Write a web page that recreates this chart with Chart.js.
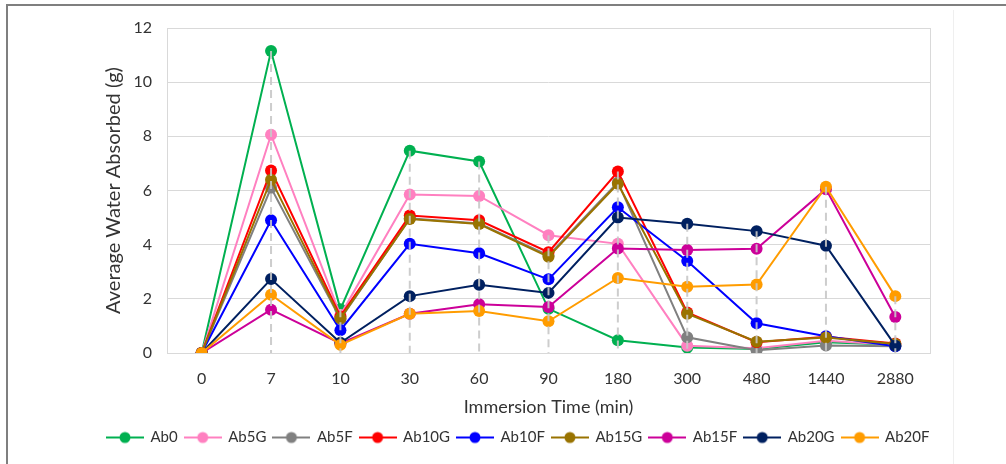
<!DOCTYPE html>
<html>
<head>
<meta charset="utf-8">
<style>
	html, body {
		margin: 0;
		padding: 0;
		overflow: hidden;
		background: #fff;
	}

	.frame {
		position: absolute;
		left: 6px;
		top: 4px;
		width: 1100px;
		height: 600px;
		border-top: 2px solid #7f7f7f;
		border-left: 2px solid #7f7f7f;
	}

	.edge {
		position: absolute;
		left: 953px;
		top: 10px;
		width: 1px;
		height: 460px;
		background: #efefef;
	}

	.wrapper {
		position: absolute;
		left: 0;
		top: 0;
		width: 1006px;
		height: 464px;
	}
</style>
</head>
<body>
<div class="frame"></div>
<div class="edge"></div>
<div class="wrapper">
	<canvas id="waterChart"></canvas>
</div>

<script src="https://cdn.jsdelivr.net/npm/chart.js"></script>

<script>
	var times = ['0', '7', '10', '30', '60', '90', '180', '300', '480', '1440', '2880'];

	var ab0   = [0, 11.15, 1.62, 7.47, 7.07, 1.63, 0.47, 0.20, 0.15, 0.40, 0.30];
	var ab5G  = [0, 8.06, 1.40, 5.85, 5.80, 4.35, 4.03, 0.27, 0.18, 0.45, 0.30];
	var ab5F  = [0, 6.10, 1.25, 4.97, 4.78, 3.60, 6.30, 0.58, 0.10, 0.28, 0.25];
	var ab10G = [0, 6.74, 1.35, 5.08, 4.90, 3.72, 6.70, 1.50, 0.40, 0.60, 0.35];
	var ab10F = [0, 4.90, 0.84, 4.03, 3.68, 2.72, 5.38, 3.40, 1.10, 0.62, 0.25];
	var ab15G = [0, 6.40, 1.28, 4.95, 4.76, 3.55, 6.25, 1.45, 0.42, 0.57, 0.33];
	var ab15F = [0, 1.60, 0.35, 1.45, 1.80, 1.70, 3.86, 3.80, 3.85, 6.05, 1.33];
	var ab20G = [0, 2.73, 0.38, 2.10, 2.52, 2.22, 5.00, 4.77, 4.50, 3.96, 0.27];
	var ab20F = [0, 2.15, 0.30, 1.45, 1.55, 1.17, 2.77, 2.45, 2.53, 6.14, 2.10];

	var yTicks = [0, 2, 4, 6, 8, 10, 12];

	var seriesNames = ['Ab0', 'Ab5G', 'Ab5F', 'Ab10G', 'Ab10F', 'Ab15G', 'Ab15F', 'Ab20G', 'Ab20F'];
	var seriesData = [ab0, ab5G, ab5F, ab10G, ab10F, ab15G, ab15F, ab20G, ab20F];
	var seriesColors = ['#00B050', '#FF80C0', '#808080', '#FF0000', '#0000FF', '#997300', '#CC0099', '#002060', '#FF9C00'];

	var font = 'Lato, "Open Sans", sans-serif';

	// legend swatch: short line with a dot in the middle
	function legendIcon(color) {
		var c = document.createElement('canvas');
		c.width = 38;
		c.height = 14;
		var ctx = c.getContext('2d');
		ctx.strokeStyle = color;
		ctx.lineWidth = 2;
		ctx.beginPath();
		ctx.moveTo(0, 7);
		ctx.lineTo(38, 7);
		ctx.stroke();
		ctx.fillStyle = color;
		ctx.beginPath();
		ctx.arc(19, 7, 5.5, 0, Math.PI * 2);
		ctx.fill();
		return c;
	}

	var datasets = seriesNames.map(function (name, i) {
		return {
			label: name,
			data: seriesData[i],
			borderColor: seriesColors[i],
			backgroundColor: seriesColors[i],
			borderWidth: 2,
			pointRadius: 6,
			pointBorderWidth: 0,
			pointHoverRadius: 6,
			fill: false,
			tension: 0,
			order: seriesNames.length - i
		};
	});

	// Excel style drop lines from the highest point down to the axis
	var dropLines = {
		id: 'dropLines',
		afterDatasetsDraw: function (chart) {
			var ctx = chart.ctx;
			var xs = chart.scales.x;
			var ys = chart.scales.y;
			ctx.save();
			ctx.strokeStyle = 'rgba(200,200,200,0.9)';
			ctx.lineWidth = 2;
			ctx.setLineDash([8, 5]);
			times.forEach(function (t, i) {
				var top = 0;
				seriesData.forEach(function (s) {
					if (s[i] > top) top = s[i];
				});
				if (top <= 0) return;
				var x = xs.getPixelForValue(i);
				ctx.beginPath();
				ctx.moveTo(x, ys.getPixelForValue(top));
				ctx.lineTo(x, ys.getPixelForValue(0));
				ctx.stroke();
			});
			ctx.restore();
		}
	};

	var plotBorder = {
		id: 'plotBorder',
		beforeDatasetsDraw: function (chart) {
			var a = chart.chartArea;
			var ctx = chart.ctx;
			ctx.save();
			ctx.strokeStyle = '#d9d9d9';
			ctx.lineWidth = 1;
			ctx.strokeRect(a.left + 0.5, a.top + 0.5, a.right - a.left, a.bottom - a.top);
			ctx.restore();
		}
	};

	new Chart(document.getElementById('waterChart'), {
		type: 'line',
		data: {
			labels: times,
			datasets: datasets
		},
		plugins: [plotBorder, dropLines],
		options: {
			responsive: true,
			maintainAspectRatio: false,
			animation: false,
			layout: {
				padding: { left: 100, right: 0, top: 28, bottom: 9 }
			},
			plugins: {
				tooltip: { enabled: false },
				legend: {
					position: 'bottom',
					align: 'start',
					labels: {
						usePointStyle: true,
						pointStyleWidth: 36,
						padding: 7,
						color: '#333',
						font: { family: font, size: 15 },
						sort: function (a, b) {
							return a.datasetIndex - b.datasetIndex;
						},
						generateLabels: function (chart) {
							var items = Chart.defaults.plugins.legend.labels.generateLabels(chart);
							items.forEach(function (it) {
								it.pointStyle = legendIcon(seriesColors[it.datasetIndex]);
							});
							return items;
						}
					}
				}
			},
			scales: {
				x: {
					offset: true,
					grid: { display: false, drawTicks: false },
					border: { display: false },
					ticks: {
						padding: 16,
						color: '#333',
						font: { family: font, size: 16 }
					},
					title: {
						display: true,
						text: 'Immersion Time (min)',
						color: '#333',
						padding: { top: 0, bottom: 5 },
						font: { family: font, size: 18 }
					},
					afterFit: function (scale) {
						scale.height = 70;
					}
				},
				y: {
					min: 0,
					max: 12,
					afterBuildTicks: function (scale) {
						scale.ticks = yTicks.map(function (v) { return { value: v }; });
					},
					grid: { color: '#d9d9d9', drawTicks: false },
					border: { display: false },
					ticks: {
						padding: 15,
						color: '#333',
						font: { family: font, size: 16 }
					},
					title: {
						display: true,
						text: 'Average Water Absorbed (g)',
						color: '#333',
						padding: { top: 2, bottom: 0 },
						font: { family: font, size: 20 }
					},
					afterFit: function (scale) {
						scale.width = 67;
					}
				},
				// empty space right of the plot, keeps the legend on one row
				side: {
					position: 'right',
					grid: { display: false, drawTicks: false },
					border: { display: false },
					ticks: { display: false },
					afterFit: function (scale) {
						scale.width = 76;
					}
				}
			}
		}
	});
</script>
</body>
</html>
